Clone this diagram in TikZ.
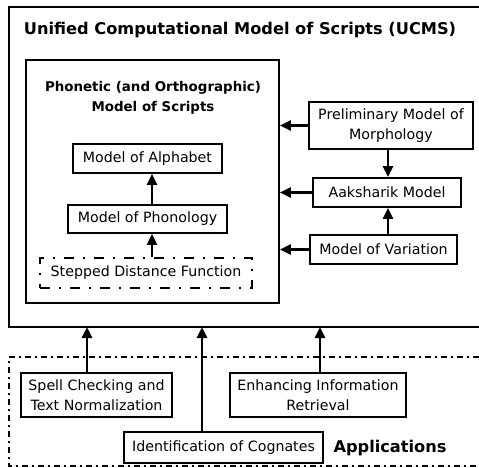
\documentclass[tikz,border=0pt]{standalone}
\usepackage{fontspec}
\setmainfont{DejaVu Sans}
\usetikzlibrary{arrows.meta}

\begin{document}
\begin{tikzpicture}[x=1pt,y=-1pt,
    font=\fontsize{14.2}{19.5}\selectfont,
    box/.style={draw,line width=1.8pt,align=center,inner sep=0pt},
    dashdot/.style={line width=1.8pt,dash pattern=on 6pt off 4pt on 2pt off 4pt},
    widedashdot/.style={line width=1.8pt,dash pattern=on 10pt off 9pt on 2pt off 9pt},
    heading/.style={align=center,font=\bfseries\fontsize{13.4}{20}\selectfont},
    bigheading/.style={font=\bfseries\fontsize{16.2}{20}\selectfont},
    arr/.style={line width=2.8pt,-{Triangle[length=11pt,width=10pt]}}]
  \useasboundingbox (0,0) rectangle (479,467);

  % UCMS frame, open on the right
  \draw[line width=1.8pt] (479,7) -- (9,7) -- (9,327) -- (479,327);
  \node[bigheading] (ucmstitle) at (240,30) {Unified Computational Model of Scripts (UCMS)};
  \coordinate (ucmsbot) at (0,327);

  % phonetic model
  \node[box,minimum width=253pt,minimum height=243pt] (phonetic) at (152.5,181.5) {};
  \node[heading] (phonetictitle) at (153,98) {Phonetic (and Orthographic)\\Model of Scripts};
  \node[box,minimum width=149pt,minimum height=29pt] (alphabet) at (147.5,158.5) {Model of Alphabet};
  \node[box,minimum width=159pt,minimum height=28pt] (phonology) at (147.5,219) {Model of Phonology};
  \node[box,widedashdot,minimum width=212pt,minimum height=30pt] (stepped) at (146,273) {Stepped Distance Function};
  \coordinate (leftcol) at (152,0);
  \draw[arr] (stepped.north -| leftcol) -- (phonology.south -| leftcol);
  \draw[arr] (phonology.north -| leftcol) -- (alphabet.south -| leftcol);

  % right column
  \node[box,minimum width=164pt,minimum height=47pt] (prelim) at (391,125.5) {Preliminary Model of\\Morphology};
  \node[box,minimum width=148pt,minimum height=29pt] (aaksharik) at (387,192.5) {Aaksharik Model};
  \node[box,minimum width=147pt,minimum height=29pt] (variation) at (383.5,249.5) {Model of Variation};
  \coordinate (rightcol) at (388,0);
  \draw[arr] (prelim.south -| rightcol) -- (aaksharik.north -| rightcol);
  \draw[arr] (variation.north -| rightcol) -- (aaksharik.south -| rightcol);
  \draw[arr] (prelim.west) -- (prelim.west -| phonetic.east);
  \draw[arr] (aaksharik.west) -- (aaksharik.west -| phonetic.east);
  \draw[arr] (variation.west) -- (variation.west -| phonetic.east);

  % applications, open on the right
  \draw[dashdot] (479,357) -- (9,357) -- (9,466) -- (479,466);
  \node[box,minimum width=151pt,minimum height=44pt] (spell) at (96.5,395) {Spell Checking and\\Text Normalization};
  \node[box,minimum width=176pt,minimum height=44pt] (retrieval) at (318,395) {Enhancing Information\\Retrieval};
  \node[box,minimum width=199pt,minimum height=31pt] (cognates) at (223.5,447.5) {Identification of Cognates};
  \node[bigheading] (applabel) at (390,448) {Applications};
  \coordinate (spellcol) at (87,0);
  \coordinate (cogcol) at (202,0);
  \coordinate (retrcol) at (320,0);
  \draw[arr] (spell.north -| spellcol) -- (ucmsbot -| spellcol);
  \draw[arr] (cognates.north -| cogcol) -- (ucmsbot -| cogcol);
  \draw[arr] (retrieval.north -| retrcol) -- (ucmsbot -| retrcol);
\end{tikzpicture}
\end{document}
